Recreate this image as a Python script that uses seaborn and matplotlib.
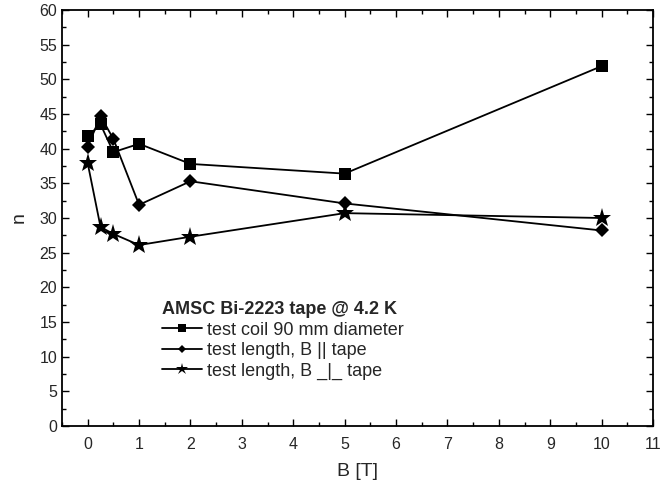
import matplotlib
matplotlib.use("Agg")
import matplotlib.pyplot as plt
import seaborn as sns
import pandas as pd
from matplotlib.ticker import MultipleLocator

B_coil = [0, 0.25, 0.5, 1, 2, 5, 10]
n_coil = [41.8, 43.5, 39.5, 40.7, 37.8, 36.4, 51.9]
B_par = [0, 0.25, 0.5, 1, 2, 5, 10]
n_par = [40.3, 44.7, 41.4, 31.9, 35.3, 32.1, 28.2]
B_perp = [0, 0.25, 0.5, 1, 2, 5, 10]
n_perp = [37.9, 28.7, 27.7, 26.1, 27.3, 30.7, 30.0]
labels = ["test coil 90 mm diameter", "test length, B || tape", "test length, B _|_ tape"]
legend_title = "AMSC Bi-2223 tape @ 4.2 K"

df = pd.concat([
    pd.DataFrame({"B": B_coil, "n": n_coil, "series": labels[0]}),
    pd.DataFrame({"B": B_par, "n": n_par, "series": labels[1]}),
    pd.DataFrame({"B": B_perp, "n": n_perp, "series": labels[2]}),
])

sns.set_style("ticks")
plt.rcParams['font.family'] = ['Liberation Sans', 'DejaVu Sans']

fig = plt.figure(figsize=(6.67, 4.86), dpi=100)
ax = fig.add_axes([62/667, 1-426/486, (653-62)/667, (426-10)/486])

markers = {labels[0]: "s", labels[1]: "D", labels[2]: "*"}
sizes_m = {labels[0]: 9, labels[1]: 7, labels[2]: 14}
for lab in labels:
    sub = df[df.series == lab]
    sns.lineplot(data=sub, x="B", y="n", ax=ax, color="black", marker=markers[lab],
                 markersize=sizes_m[lab], linewidth=1.3, markeredgewidth=0,
                 label=lab, sort=False, estimator=None)

ax.set_xlim(-0.5, 11)
ax.set_ylim(0, 60)
ax.xaxis.set_major_locator(MultipleLocator(1))
ax.xaxis.set_minor_locator(MultipleLocator(0.5))
ax.yaxis.set_major_locator(MultipleLocator(5))
ax.yaxis.set_minor_locator(MultipleLocator(2.5))
ax.tick_params(which="both", direction="in", top=True, right=True, labelsize=11.5, width=1, color="black")
ax.tick_params(which="major", length=5)
ax.tick_params(which="minor", length=3)
ax.tick_params(axis="x", pad=8)
for s in ax.spines.values():
    s.set_linewidth(1.3)
    s.set_color("black")
ax.set_xlabel("B [T]", fontsize=14, labelpad=8)
ax.set_ylabel("n", fontsize=14, labelpad=8)

leg = ax.legend(title=legend_title, frameon=False, fontsize=13, title_fontsize=13,
                loc="upper left", bbox_to_anchor=(0.157, 0.318), handlelength=2.2,
                handletextpad=0.3, labelspacing=0.2, borderaxespad=0, markerscale=0.65)
leg.get_title().set_fontweight("bold")
leg._legend_box.align = "left"

fig.savefig("out.png", dpi=100)
